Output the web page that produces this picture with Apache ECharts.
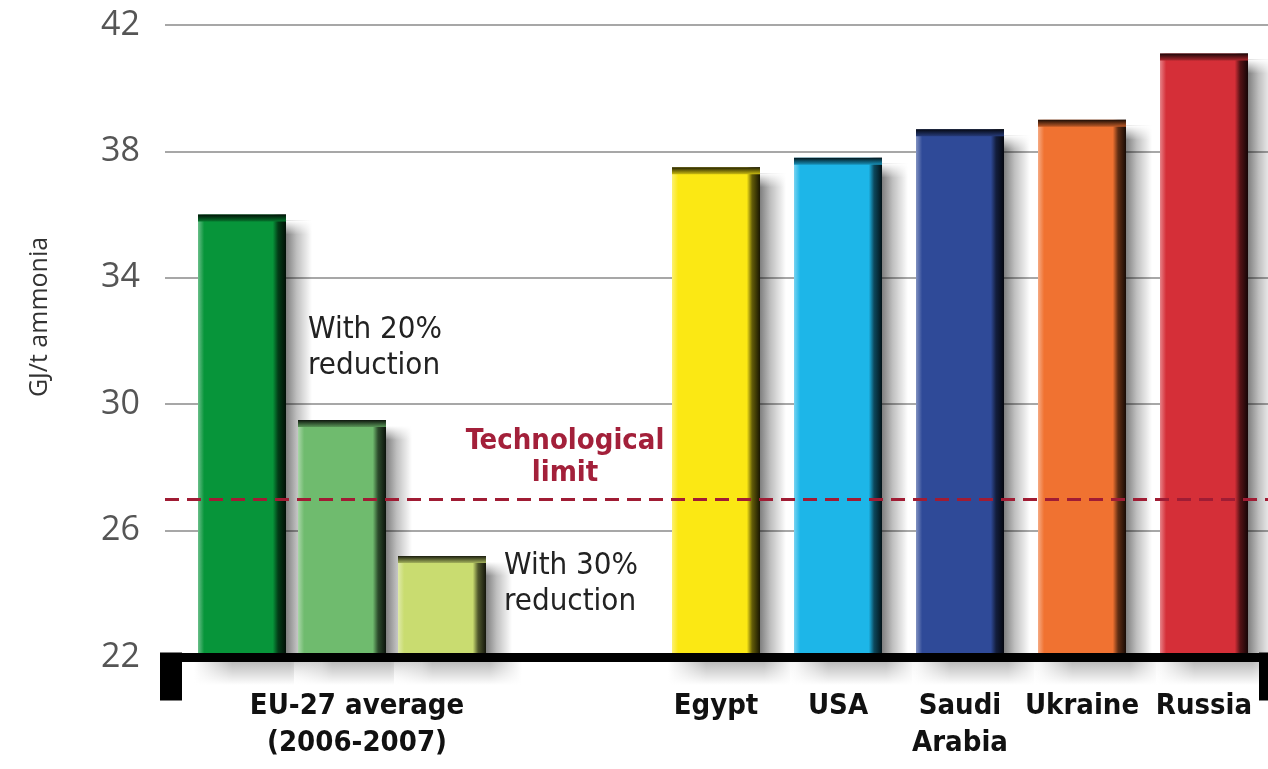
<!DOCTYPE html>
<html>
<head>
<meta charset="utf-8">
<script src="https://cdn.jsdelivr.net/npm/echarts@6/dist/echarts.min.js"></script>
<style>
  html, body { margin: 0; padding: 0; background: #ffffff; }
  #chart { width: 1268px; height: 769px; }
</style>
</head>
<body>
<div id="chart"></div>
<script>
// EU-27 benchmark and reduction scenarios (GJ per tonne of ammonia)
const euGroupLabel = 'EU-27 average\n(2006-2007)';
const euCategories = ['EU-27 average', 'With 20%\nreduction', 'With 30%\nreduction'];
const euValues = [36.0, 29.5, 25.2];

// Producing countries
const countryCategories = ['Egypt', 'USA', 'Saudi\nArabia', 'Ukraine', 'Russia'];
const countryValues = [37.5, 37.8, 38.7, 39.0, 41.1];

// Technological limit
const techLimitLabel = 'Technological\nlimit';
const techLimit = 27;

// Value axis
const yAxisName = 'GJ/t ammonia';
const yMin = 22, yMax = 42, yStep = 4;

// Palette
const euColors = ['#07953a', '#6fbb6e', '#c9dc70'];
const countryColors = ['#fbe814', '#1db6e8', '#2f4a98', '#f07231', '#d52f38'];

// Layout
const TOP = 25, BOTTOM = 112;
const BAR_W = 88;
const SHADOW_W = 28;
const LABEL_FONT = '"DejaVu Sans Condensed", "Liberation Sans Narrow", "DejaVu Sans", sans-serif';

function shade(hex, amt) {
  const n = parseInt(hex.slice(1), 16);
  let r = (n >> 16) & 255, g = (n >> 8) & 255, b = n & 255;
  const t = amt < 0 ? 0 : 255, p = Math.abs(amt);
  r = Math.round(r + (t - r) * p);
  g = Math.round(g + (t - g) * p);
  b = Math.round(b + (t - b) * p);
  return 'rgb(' + r + ',' + g + ',' + b + ')';
}

function barFill(c) {
  return new echarts.graphic.LinearGradient(0, 0, 1, 0, [
    { offset: 0, color: shade(c, 0.4) },
    { offset: 0.07, color: c },
    { offset: 0.85, color: c },
    { offset: 0.91, color: shade(c, -0.6) },
    { offset: 1, color: shade(c, -0.9) }
  ]);
}

function topFill(c) {
  return new echarts.graphic.LinearGradient(0, 0, 0, 1, [
    { offset: 0, color: shade(c, -0.88) },
    { offset: 1, color: shade(c, -0.2) }
  ]);
}

const sideShadow = new echarts.graphic.LinearGradient(0, 0, 1, 0, [
  { offset: 0, color: 'rgba(0,0,0,0.55)' },
  { offset: 0.45, color: 'rgba(0,0,0,0.25)' },
  { offset: 1, color: 'rgba(0,0,0,0)' }
]);
const sideShadowTop = new echarts.graphic.LinearGradient(0, 0, 0, 1, [
  { offset: 0, color: 'rgba(255,255,255,1)' },
  { offset: 1, color: 'rgba(255,255,255,0)' }
]);
const floorShadow = new echarts.graphic.LinearGradient(0, 0, 1, 0, [
  { offset: 0, color: 'rgba(0,0,0,0)' },
  { offset: 0.3, color: 'rgba(0,0,0,0.32)' },
  { offset: 0.75, color: 'rgba(0,0,0,0.32)' },
  { offset: 1, color: 'rgba(0,0,0,0)' }
]);
const floorFade = new echarts.graphic.LinearGradient(0, 0, 0, 1, [
  { offset: 0, color: 'rgba(255,255,255,0)' },
  { offset: 1, color: 'rgba(255,255,255,1)' }
]);

// Bevelled bar with cast shadow, drawn from the axis floor up to the value
function bevelBar(colors, notes) {
  return function (params, api) {
    const cat = api.value(0);
    const val = api.value(1);
    const top = api.coord([cat, val]);
    const base = api.coord([cat, yMin]);
    const x = top[0] - BAR_W / 2;
    const h = base[1] - top[1];
    const c = colors[params.dataIndex];
    const children = [
      {
        type: 'rect',
        shape: { x: x + BAR_W - 2, y: top[1] + 6, width: SHADOW_W, height: h - 6 },
        style: { fill: sideShadow }
      },
      {
        type: 'rect',
        shape: { x: x + BAR_W - 2, y: top[1] + 6, width: SHADOW_W, height: 14 },
        style: { fill: sideShadowTop }
      },
      {
        type: 'rect',
        shape: { x: x - 4, y: base[1], width: BAR_W + 40, height: 28 },
        style: { fill: floorShadow }
      },
      {
        type: 'rect',
        shape: { x: x - 4, y: base[1], width: BAR_W + 40, height: 28 },
        style: { fill: floorFade }
      },
      {
        type: 'rect',
        shape: { x: x, y: top[1], width: BAR_W, height: h },
        style: { fill: barFill(c) }
      },
      {
        type: 'rect',
        shape: { x: x, y: top[1], width: BAR_W, height: 7 },
        style: { fill: topFill(c) }
      }
    ];
    const note = notes && notes[params.dataIndex];
    if (note) {
      children.push({
        type: 'text',
        x: x + note.dx, y: top[1] + note.dy, z2: 5,
        style: {
          text: note.text, fill: '#222', align: 'left', verticalAlign: note.va,
          font: '31px ' + LABEL_FONT, lineHeight: 36
        }
      });
    }
    return { type: 'group', children: children };
  };
}

const euNotes = [
  null,
  { text: euCategories[1], dx: 10, dy: -36, va: 'bottom' },
  { text: euCategories[2], dx: BAR_W + 18, dy: -8, va: 'top' }
];

const catLabelStyle = {
  interval: 0,
  color: '#111',
  fontFamily: LABEL_FONT,
  fontWeight: 'bold',
  fontSize: 29,
  lineHeight: 37,
  margin: 31
};

const hiddenValueAxis = (gi) => ({
  gridIndex: gi, type: 'value', min: yMin, max: yMax, interval: yStep,
  show: false
});

const chart = echarts.init(document.getElementById('chart'));

const option = {
  animation: false,
  backgroundColor: '#ffffff',
  grid: [
    { left: 165, right: 0, top: TOP, bottom: BOTTOM },
    { left: 192, width: 300, top: TOP, bottom: BOTTOM },
    { left: 655, width: 610, top: TOP, bottom: BOTTOM }
  ],
  xAxis: [
    {
      gridIndex: 0, type: 'category', data: [''], z: 5,
      axisLine: { onZero: false, lineStyle: { color: '#000', width: 9 } },
      axisTick: { show: false },
      axisLabel: { show: false },
      splitLine: { show: false }
    },
    {
      gridIndex: 1, type: 'category', data: euCategories, z: 5,
      axisLine: { show: false }, axisTick: { show: false },
      axisLabel: Object.assign({}, catLabelStyle, {
        padding: [0, 0, 0, 30],
        formatter: (v, i) => (i === 1 ? euGroupLabel : '')
      })
    },
    {
      gridIndex: 2, type: 'category', data: countryCategories, z: 5,
      axisLine: { show: false }, axisTick: { show: false },
      axisLabel: catLabelStyle
    }
  ],
  yAxis: [
    {
      gridIndex: 0, type: 'value', min: yMin, max: yMax, interval: yStep,
      axisLine: { show: false }, axisTick: { show: false },
      axisLabel: {
        color: '#555', fontSize: 34, margin: 25,
        fontFamily: '"Open Sans", "Liberation Sans", sans-serif'
      },
      splitLine: { lineStyle: { color: '#8a8a8a', width: 1.5 } }
    },
    hiddenValueAxis(1),
    hiddenValueAxis(2)
  ],
  series: [
    {
      // carries the technological-limit line across the full plot width
      type: 'line', xAxisIndex: 0, yAxisIndex: 0, data: [], silent: true,
      markLine: {
        silent: true, symbol: 'none', z: 4,
        label: { show: false },
        lineStyle: { color: '#a01c34', width: 3, type: [14, 8] },
        data: [{ yAxis: techLimit }]
      }
    },
    {
      type: 'custom', xAxisIndex: 1, yAxisIndex: 1, z: 2,
      encode: { x: 0, y: 1 },
      renderItem: bevelBar(euColors, euNotes),
      data: euValues.map((v, i) => [i, v])
    },
    {
      type: 'custom', xAxisIndex: 2, yAxisIndex: 2, z: 2,
      encode: { x: 0, y: 1 },
      renderItem: bevelBar(countryColors, null),
      data: countryValues.map((v, i) => [i, v])
    }
  ]
};

chart.setOption(option);

// Decorations placed from the laid-out axes
const baseY = chart.convertToPixel({ yAxisIndex: 0 }, yMin);
const limitY = chart.convertToPixel({ yAxisIndex: 0 }, techLimit);

chart.setOption({
  graphic: [
    {
      type: 'text', x: 40, y: 317, rotation: Math.PI / 2,
      style: {
        text: yAxisName, fill: '#333', align: 'center', verticalAlign: 'middle',
        font: '25px "Open Sans", "Liberation Sans", sans-serif'
      }
    },
    {
      type: 'text', x: 565, y: limitY - 10, z: 10,
      style: {
        text: techLimitLabel, fill: '#a3203a', align: 'center', verticalAlign: 'bottom',
        font: 'bold 29px ' + LABEL_FONT, lineHeight: 32
      }
    },
    {
      type: 'rect', z: 10,
      shape: { x: 160, y: baseY - 4.5, width: 22, height: 48 },
      style: { fill: '#000' }
    },
    {
      type: 'rect', z: 10,
      shape: { x: 1259, y: baseY - 4.5, width: 9, height: 48 },
      style: { fill: '#000' }
    }
  ]
});
</script>
</body>
</html>
